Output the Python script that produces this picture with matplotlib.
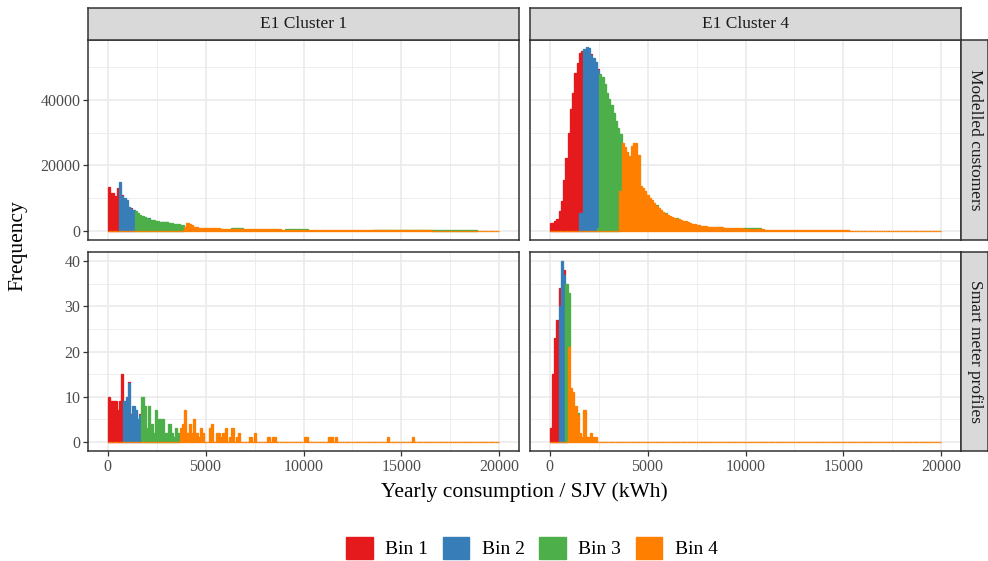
import numpy as np
import matplotlib.pyplot as plt
from matplotlib.patches import Patch

plt.rcParams['font.family'] = ['Liberation Serif', 'DejaVu Serif']

# histogram: 174 bars of equal width between 0 and 20000 kWh
n_bars = 174
bar_width = 20000 / n_bars

bin_names = ["Bin 1", "Bin 2", "Bin 3", "Bin 4"]
bin_colors = ["#E41A1C", "#377EB8", "#4DAF4A", "#FF7F00"]
clusters = ["E1 Cluster 1", "E1 Cluster 4"]
sources = ["Modelled customers", "Smart meter profiles"]

# each layer: (index of first bar, counts per bar)
# --- E1 Cluster 1, modelled customers
c1_model_bin1 = (0, [13300, 11500, 11500, 10800, 13000, 0, 300, 0, 0, 0, 200])
c1_model_bin2 = (5, [14800, 10700, 10100, 9500, 7400, 6700, 6400,
                     0, 0, 0, 0, 0, 0, 200, 0, 0, 0, 0, 0, 150, 0, 150])
c1_model_bin3 = (12, [6000, 5350, 4980, 4670, 4300, 4000, 3650, 3400, 3400, 3100,
                      2900, 2850, 2700, 2650, 2650, 2500, 2300, 2100, 2050, 2000,
                      1850, 1800, 0, 0, 0, 0, 0, 0, 0, 0,
                      0, 0, 0, 0, 0, 0, 0, 0, 0, 0,
                      0, 0, 0, 150, 150, 150, 150, 150, 0, 0,
                      0, 0, 0, 0, 0, 0, 0, 0, 0, 0,
                      0, 0, 0, 0, 0, 0, 0, 150, 150, 150,
                      150, 150, 150, 150, 150, 150, 150, 0, 0, 0,
                      0, 0, 0, 0, 0, 0, 0, 0, 0, 0,
                      0, 0, 0, 0, 0, 0, 0, 0, 0, 0,
                      0, 0, 0, 0, 0, 0, 200, 200, 200, 200,
                      200, 200, 200, 200, 200, 200, 200, 200, 200, 200,
                      200, 200, 200, 200, 200, 200, 200, 200, 200, 200,
                      200, 200, 200, 200, 200, 200, 200, 200, 200, 200,
                      200, 200, 200, 200, 200, 200, 200, 200, 200, 200,
                      200, 200])
c1_model_bin4 = (34, [1300, 2460, 2200, 1740, 1330, 1100, 1030, 1030, 980, 920,
                      860, 820, 820, 800, 790, 760, 740, 720, 700, 700,
                      680, 670, 650, 640, 630, 610, 600, 580, 570, 560,
                      550, 540, 530, 520, 510, 500, 500, 490, 480, 470,
                      460, 450, 440, 430, 420, 410, 400, 390, 380, 370,
                      360, 350, 350, 340, 330, 330, 320, 320, 310, 310,
                      300, 300, 290, 290, 280, 280, 270, 270, 260, 260,
                      250, 250, 240, 240, 240, 230, 230, 230, 220, 220,
                      220, 210, 210, 210, 200, 200, 200, 190, 190, 190,
                      180, 180, 180, 180, 170, 170, 170, 170, 160, 160,
                      160, 160, 150, 150, 150, 150, 140, 140, 140, 140,
                      130, 130, 130, 130, 130, 120, 120, 120, 120, 120,
                      110, 110, 110, 110, 110, 100, 100, 100, 100, 100,
                      100, 90, 90, 90, 90, 90, 90, 80, 80, 80])

# --- E1 Cluster 4, modelled customers
c4_model_bin1 = (0, [2300, 2300, 2900, 3700, 6200, 9000, 15700, 22400, 29800, 37200,
                     42200, 48200, 51300, 48800, 49600, 0, 0, 0, 300, 0, 0, 400])
c4_model_bin2 = (13, [5400, 5400, 55700, 56300, 55900, 53700, 52800, 51600, 48200])
c4_model_bin3 = (21, [800, 47800, 47000, 45000, 42000, 40300, 38300, 36000, 33700, 31500,
                      17600, 0, 0, 0, 0, 0, 0, 0, 0, 0,
                      0, 0, 0, 0, 0, 0, 300, 0, 0, 0,
                      200, 0, 0, 0, 0, 200, 0, 0, 0, 0,
                      0, 0, 0, 0, 0, 0, 0, 0, 0, 0,
                      0, 0, 0, 0, 200, 0, 0, 0, 0, 0,
                      0, 0, 0, 0, 0, 200, 200, 200, 200, 200,
                      200, 200, 200])
c4_model_bin4 = (31, [12100, 27000, 25500, 24000, 23000, 25900, 27000, 27000, 23100, 13600,
                      13100, 12300, 11100, 10200, 9300, 8400, 7700, 7000, 6400, 5800,
                      5300, 4900, 4600, 4200, 3900, 3700, 3500, 3300, 3100, 2900,
                      2700, 2400, 2200, 2050, 1900, 1750, 1600, 1550, 1500, 1300,
                      1200, 1150, 1150, 1100, 1100, 1050, 1000, 950, 950, 900,
                      850, 820, 820, 800, 780, 720, 700, 700, 690, 680,
                      670, 650, 600, 450, 420, 420, 400, 400, 380, 380,
                      360, 320, 300, 300, 290, 280, 250, 250, 240, 240,
                      230, 230, 220, 220, 210, 210, 200, 200, 190, 190,
                      180, 180, 170, 170, 160, 160, 150, 150, 150, 140,
                      140, 140, 130, 130, 130, 120, 120, 120, 110, 110,
                      110, 110, 100, 100, 100, 100, 100, 90, 90, 90,
                      90, 90, 80, 80, 80, 80, 80, 80, 80, 80,
                      80, 80, 80])

# --- E1 Cluster 1, smart meter profiles
c1_smart_bin1 = (0, [10, 9, 9, 9, 7, 9, 15, 0, 0, 0.3, 0.2, 0, 0, 0, 0.2])
c1_smart_bin2 = (7, [9, 10, 13, 6, 8, 7, 5, 6])
c1_smart_bin3 = (15, [10, 8, 3, 8, 4, 2, 7, 5, 5, 5, 2, 2, 4, 2, 1, 3, 2])
c1_smart_bin4 = (32, [3, 4, 7, 2, 4, 2, 5, 2, 1, 3, 2, 0, 0, 3, 4, 0, 2, 2, 1, 2,
                      3, 0, 1, 3, 0, 1, 2, 0, 0, 0, 0, 1, 0, 2, 0, 0, 0, 0, 0, 1,
                      0, 1, 1, 0, 0, 0, 0, 0, 0, 0, 0, 0, 0, 0, 0, 1, 1, 0, 0, 0,
                      0, 0, 0, 0, 0, 0, 1, 1, 0, 1, 0, 0, 0, 0, 0, 0, 0, 0, 0, 0,
                      0, 0, 0, 0, 0, 0, 0, 0, 0, 0, 0, 0, 1, 0, 0, 0, 0, 0, 0, 0,
                      0, 0, 0, 1])

# --- E1 Cluster 4, smart meter profiles
c4_smart_bin1 = (0, [3, 15, 23, 27, 4, 0, 1])
c4_smart_bin2 = (4, [30, 40, 37])
c4_smart_bin3 = (7, [35, 12, 0, 0, 0, 0.5])
c4_smart_bin4 = (8, [21, 12, 11, 8, 6, 2, 1, 7, 1, 1, 2, 1, 1])

panels = {
    (0, 0): [c1_model_bin1, c1_model_bin2, c1_model_bin3, c1_model_bin4],
    (0, 1): [c4_model_bin1, c4_model_bin2, c4_model_bin3, c4_model_bin4],
    (1, 0): [c1_smart_bin1, c1_smart_bin2, c1_smart_bin3, c1_smart_bin4],
    (1, 1): [c4_smart_bin1, c4_smart_bin2, c4_smart_bin3, c4_smart_bin4],
}

row_ylim = [(-2770, 58300), (-2.0, 42.0)]
row_major = [[0, 20000, 40000], [0, 10, 20, 30, 40]]
row_minor = [[10000, 30000, 50000], [5, 15, 25, 35]]
x_major = [0, 5000, 10000, 15000, 20000]
x_minor = [2500, 7500, 12500, 17500]


def full_counts(start, values):
    counts = np.zeros(n_bars)
    counts[start:start + len(values)] = values
    return counts


W, H = 988, 561
fig = plt.figure(figsize=(W / 100, H / 100), dpi=100)

col_x = [88, 530]
row_y = [(40, 240), (252, 451)]
panel_w = 431
dark = "#333333"
grid_col = "#EBEBEB"
strip_col = "#D9D9D9"

edges = np.arange(n_bars) * bar_width

for (row, col), layers in panels.items():
    y0, y1 = row_y[row]
    ax = fig.add_axes([col_x[col] / W, 1 - y1 / H, panel_w / W, (y1 - y0) / H])
    stacks = [full_counts(*layer) for layer in layers]
    bottoms = [stacks[3] + stacks[2] + stacks[1], stacks[3] + stacks[2], stacks[3], np.zeros(n_bars)]
    for i in range(4):
        h = stacks[i]
        keep = h > 0 if i < 3 else np.ones(n_bars, dtype=bool)
        ax.bar(edges[keep], h[keep], width=bar_width, bottom=bottoms[i][keep], align='edge',
               color=bin_colors[i], edgecolor=bin_colors[i], linewidth=0.95, zorder=2 + i)

    ax.set_xlim(-1000, 21000)
    ax.set_ylim(*row_ylim[row])
    ax.set_xticks(x_major)
    ax.set_xticks(x_minor, minor=True)
    ax.set_yticks(row_major[row])
    ax.set_yticks(row_minor[row], minor=True)
    ax.grid(True, which='major', color=grid_col, linewidth=1.2, zorder=0)
    ax.grid(True, which='minor', color=grid_col, linewidth=0.6, zorder=0)
    ax.set_axisbelow(True)
    for s in ax.spines.values():
        s.set_color(dark)
        s.set_linewidth(1.1)
    ax.tick_params(which='minor', length=0)
    ax.tick_params(which='major', length=3.5, width=0.9, color=dark,
                   labelsize=11.5, labelcolor="#4D4D4D", pad=2)
    if row == 0:
        ax.tick_params(axis='x', which='major', length=0, labelbottom=False)
    else:
        ax.set_xticklabels([str(v) for v in x_major])
    if col == 1:
        ax.tick_params(axis='y', which='major', length=0, labelleft=False)
    else:
        ax.set_yticklabels([str(v) for v in row_major[row]])

# column strips on top
for col, name in enumerate(clusters):
    sax = fig.add_axes([col_x[col] / W, 1 - 40 / H, panel_w / W, 32 / H])
    sax.set_xticks([])
    sax.set_yticks([])
    sax.set_facecolor(strip_col)
    for s in sax.spines.values():
        s.set_color(dark)
        s.set_linewidth(1.1)
    sax.text(0.5, 0.5, name, ha='center', va='center', fontsize=12.5, color="#1A1A1A",
             transform=sax.transAxes)

# row strips on the right
for row, name in enumerate(sources):
    y0, y1 = row_y[row]
    sax = fig.add_axes([961 / W, 1 - y1 / H, 27 / W, (y1 - y0) / H])
    sax.set_xticks([])
    sax.set_yticks([])
    sax.set_facecolor(strip_col)
    for s in sax.spines.values():
        s.set_color(dark)
        s.set_linewidth(1.1)
    sax.text(0.5, 0.5, name, ha='center', va='center', rotation=270, fontsize=12.5,
             color="#1A1A1A", transform=sax.transAxes)

fig.text(524.5 / W, 1 - 492 / H, "Yearly consumption / SJV (kWh)", ha='center', va='center',
         fontsize=15.5)
fig.text(18 / W, 1 - 245.5 / H, "Frequency", ha='center', va='center', rotation=90,
         fontsize=15.5)

handles = [Patch(facecolor=c, edgecolor=c, label=n) for c, n in zip(bin_colors, bin_names)]
fig.legend(handles=handles, loc='center', bbox_to_anchor=(532 / W, 1 - 548 / H), ncol=4,
           frameon=False, fontsize=14, handlelength=1.35, handleheight=1.4,
           handletextpad=0.65, columnspacing=0.75)

fig.savefig("out.png", dpi=100)
